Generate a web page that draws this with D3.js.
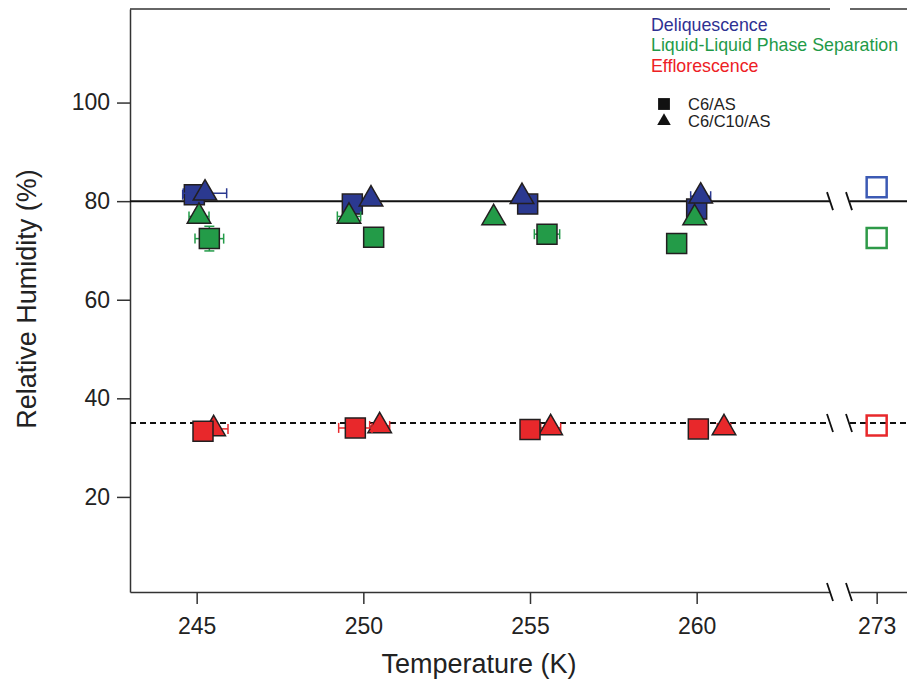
<!DOCTYPE html>
<html>
<head>
<meta charset="utf-8">
<script src="https://cdn.jsdelivr.net/npm/d3@7"></script>
<style>
  html, body { margin: 0; padding: 0; background: #fff; }
  svg { display: block; font-family: "Liberation Sans", Arial, Helvetica, sans-serif; }
</style>
</head>
<body>
<svg id="chart" width="907" height="680"></svg>
<script>
// ---------- data ----------
const xTicksLeft = [245, 250, 255, 260];
const xTicksRight = [273];
const yTicks = [20, 40, 60, 80, 100];

// Deliquescence
const delqSqT   = [244.93, 249.67, 254.93, 260.0];
const delqSqRH  = [81.3, 79.4, 79.4, 78.4];
const delqSqXerr = [0.35, 0, 0, 0];
const delqTriT  = [245.25, 250.23, 254.76, 260.12];
const delqTriRH = [81.6, 80.4, 80.9, 81.0];
const delqTriXerr = [0.65, 0, 0, 0.3];

// Liquid-liquid phase separation
const llpsSqT   = [245.38, 250.31, 255.51, 259.4];
const llpsSqRH  = [72.4, 72.7, 73.3, 71.4];
const llpsSqXerr = [0.43, 0, 0.38, 0];
const llpsSqYerr = [2.5, 0, 0, 0];
const llpsTriT  = [245.07, 249.57, 253.91, 259.94];
const llpsTriRH = [76.9, 76.9, 76.6, 76.6];
const llpsTriXerr = [0.3, 0.35, 0, 0];
const llpsTriYerr = [1.2, 0, 0, 0];

// Efflorescence
const effSqT    = [245.19, 249.76, 255.0, 260.05];
const effSqRH   = [33.3, 34.0, 33.7, 33.8];
const effSqXerr = [0, 0.5, 0, 0];
const effTriT   = [245.51, 250.49, 255.62, 260.82];
const effTriRH  = [33.8, 34.4, 34.0, 34.0];
const effTriXerr = [0.43, 0.3, 0.3, 0.2];

// 273 K (open squares)
const refT = [273, 273, 273];
const refRH = [82.8, 72.5, 34.5];   // deliquescence, LLPS, efflorescence

const drhLine = 80;
const erhLine = 35;

const legendPhases = ["Deliquescence", "Liquid-Liquid Phase Separation", "Efflorescence"];
const legendSystems = ["C6/AS", "C6/C10/AS"];

// ---------- layout ----------
const colBlue = "#2b3990", colGreen = "#239b48", colRed = "#e8282b";
const openCols = ["#3c5ab4", "#2e9a48", "#e8282b"];
const phaseTextCols = ["#2e3192", "#1f9a48", "#ed2024"];
const axisCol = "#333";

const svg = d3.select("#chart");
const xL = d3.scaleLinear().domain([243, 264]).range([130, 830]);
const xR = d3.scaleLinear().domain([272.2, 275]).range([850, 850 + 2.8 * 700 / 21]);
const y = d3.scaleLinear().domain([0.71, 118.98]).range([592, 9]);
const W = 907;

// top frame (with gap)
svg.append("line").attr("x1", 130).attr("x2", xL.range()[1]).attr("y1", 9).attr("y2", 9)
  .attr("stroke", axisCol).attr("stroke-width", 1.5);
svg.append("line").attr("x1", xR.range()[0]).attr("x2", W).attr("y1", 9).attr("y2", 9)
  .attr("stroke", axisCol).attr("stroke-width", 1.5);

// y axis
const yAxis = svg.append("g").attr("transform", "translate(130,0)")
  .call(d3.axisLeft(y).tickValues(yTicks).tickSize(13).tickSizeOuter(0).tickPadding(7));
yAxis.select(".domain").attr("stroke", axisCol).attr("stroke-width", 1.5);
yAxis.selectAll(".tick line").attr("stroke", axisCol).attr("stroke-width", 1.5);
yAxis.selectAll("text").attr("font-size", 23).attr("fill", "#222")
  .attr("font-family", "Liberation Sans, Arial, sans-serif");

// x axes
function styleX(g) {
  g.select(".domain").attr("stroke", axisCol).attr("stroke-width", 1.5);
  g.selectAll(".tick line").attr("stroke", axisCol).attr("stroke-width", 1.5);
  g.selectAll("text").attr("font-size", 23).attr("fill", "#222")
    .attr("font-family", "Liberation Sans, Arial, sans-serif");
}
svg.append("g").attr("transform", "translate(0,592)")
  .call(d3.axisBottom(xL).tickValues(xTicksLeft).tickFormat(d3.format("d"))
    .tickSize(12).tickSizeOuter(0).tickPadding(14)).call(styleX);
svg.append("g").attr("transform", "translate(0,592)")
  .call(d3.axisBottom(xR).tickValues(xTicksRight).tickFormat(d3.format("d"))
    .tickSize(12).tickSizeOuter(0).tickPadding(14)).call(styleX);

// reference lines
function refLine(v, dash) {
  [[xL.range()[0], xL.range()[1]], [xR.range()[0], W]].forEach(([a, b]) => {
    svg.append("line").attr("x1", a).attr("x2", b).attr("y1", y(v)).attr("y2", y(v))
      .attr("stroke", "#111").attr("stroke-width", 2)
      .attr("stroke-dasharray", dash ? "6,4" : null);
  });
}
refLine(drhLine, false);
refLine(erhLine, true);

// break marks
[y(drhLine), y(erhLine), 592].forEach(yy => {
  [xL.range()[1], xR.range()[0] - 1].forEach(xx => {
    svg.append("line").attr("x1", xx - 3).attr("x2", xx + 3)
      .attr("y1", yy - 9).attr("y2", yy + 9)
      .attr("stroke", "#111").attr("stroke-width", 1.8);
  });
});

// error bars
function errBars(T, RH, xe, ye, col) {
  const g = svg.append("g").attr("stroke", col).attr("stroke-width", 1.5).attr("fill", "none");
  T.forEach((t, i) => {
    const cx = xL(t), cy = y(RH[i]);
    if (xe && xe[i] > 0) {
      const a = xL(t - xe[i]), b = xL(t + xe[i]);
      g.append("line").attr("x1", a).attr("x2", b).attr("y1", cy).attr("y2", cy);
      g.append("line").attr("x1", a).attr("x2", a).attr("y1", cy - 5).attr("y2", cy + 5);
      g.append("line").attr("x1", b).attr("x2", b).attr("y1", cy - 5).attr("y2", cy + 5);
    }
    if (ye && ye[i] > 0) {
      const a = y(RH[i] - ye[i]), b = y(RH[i] + ye[i]);
      g.append("line").attr("x1", cx).attr("x2", cx).attr("y1", a).attr("y2", b);
      g.append("line").attr("x1", cx - 5).attr("x2", cx + 5).attr("y1", a).attr("y2", a);
      g.append("line").attr("x1", cx - 5).attr("x2", cx + 5).attr("y1", b).attr("y2", b);
    }
  });
}

const sq = d3.symbol().type(d3.symbolSquare).size(400)();
const tri = d3.symbol().type(d3.symbolTriangle).size(240)();

function markers(T, RH, path, fill) {
  svg.append("g").selectAll("path").data(T).join("path")
    .attr("d", path)
    .attr("transform", (t, i) => `translate(${xL(t)},${y(RH[i])})`)
    .attr("fill", fill).attr("stroke", "#231f20").attr("stroke-width", 1.5);
}

// efflorescence
errBars(effTriT, effTriRH, effTriXerr, null, colRed);
markers(effTriT, effTriRH, tri, colRed);
errBars(effSqT, effSqRH, effSqXerr, null, colRed);
markers(effSqT, effSqRH, sq, colRed);

// deliquescence
errBars(delqSqT, delqSqRH, delqSqXerr, null, colBlue);
markers(delqSqT, delqSqRH, sq, colBlue);
errBars(delqTriT, delqTriRH, delqTriXerr, null, colBlue);
markers(delqTriT, delqTriRH, tri, colBlue);

// LLPS
errBars(llpsSqT, llpsSqRH, llpsSqXerr, llpsSqYerr, colGreen);
markers(llpsSqT, llpsSqRH, sq, colGreen);
errBars(llpsTriT, llpsTriRH, llpsTriXerr, llpsTriYerr, colGreen);
markers(llpsTriT, llpsTriRH, tri, colGreen);

// 273 K open squares
svg.append("g").selectAll("path").data(refT).join("path")
  .attr("d", sq)
  .attr("transform", (t, i) => `translate(${xR(t)},${y(refRH[i])})`)
  .attr("fill", "none").attr("stroke", (t, i) => openCols[i]).attr("stroke-width", 2.5);

// axis titles
svg.append("text").attr("x", 479).attr("y", 673).attr("text-anchor", "middle")
  .attr("font-size", 27).attr("fill", "#222").text("Temperature (K)");
svg.append("text").attr("transform", "translate(36,299) rotate(-90)").attr("text-anchor", "middle")
  .attr("font-size", 27).attr("fill", "#222").text("Relative Humidity (%)");

// legend: phases
svg.append("g").selectAll("text").data(legendPhases).join("text")
  .attr("x", 651).attr("y", (d, i) => 31 + i * 20.3)
  .attr("font-size", 17.8).attr("fill", (d, i) => phaseTextCols[i]).text(d => d);

// legend: systems
const lsq = d3.symbol().type(d3.symbolSquare).size(140)();
const ltri = d3.symbol().type(d3.symbolTriangle).size(80)();
svg.append("path").attr("d", lsq).attr("transform", "translate(664,104)").attr("fill", "#111");
svg.append("path").attr("d", ltri).attr("transform", "translate(664,121)").attr("fill", "#111");
svg.append("g").selectAll("text").data(legendSystems).join("text")
  .attr("x", 688).attr("y", (d, i) => 110 + i * 17)
  .attr("font-size", 16.5).attr("fill", "#222").text(d => d);
</script>
</body>
</html>
